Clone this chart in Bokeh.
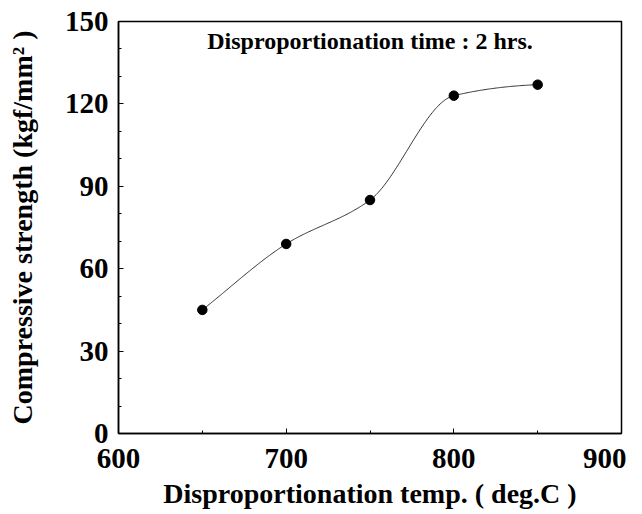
import numpy as np
from bokeh.plotting import figure
from bokeh.models import Range1d, Label, SingleIntervalTicker
from bokeh.embed import file_html
from bokeh.resources import INLINE

temps = [650, 700, 750, 800, 850]
strength = [45, 69, 85, 123, 127]
x_ticks = [600, 700, 800, 900]
y_ticks = [0, 30, 60, 90, 120, 150]

# monotone cubic (Fritsch-Carlson) curve through the data points
def pchip(xs, ys, n=300):
    xs = np.asarray(xs, float); ys = np.asarray(ys, float)
    h = np.diff(xs); d = np.diff(ys) / h
    m = np.zeros_like(ys)
    for i in range(1, len(xs) - 1):
        if d[i - 1] * d[i] > 0:
            w1 = 2 * h[i] + h[i - 1]; w2 = h[i] + 2 * h[i - 1]
            m[i] = (w1 + w2) / (w1 / d[i - 1] + w2 / d[i])
    m[0] = d[0]; m[-1] = d[-1] * 0.3
    xx = np.linspace(xs[0], xs[-1], n); yy = np.empty_like(xx)
    for j, x in enumerate(xx):
        i = min(np.searchsorted(xs, x, side="right") - 1, len(xs) - 2)
        t = (x - xs[i]) / h[i]
        h00 = 2 * t**3 - 3 * t**2 + 1; h10 = t**3 - 2 * t**2 + t
        h01 = -2 * t**3 + 3 * t**2; h11 = t**3 - t**2
        yy[j] = h00 * ys[i] + h10 * h[i] * m[i] + h01 * ys[i + 1] + h11 * h[i] * m[i + 1]
    return xx, yy

sx, sy = pchip(temps, strength)

FONT = "Liberation Serif"
p = figure(frame_width=503, frame_height=412, output_backend="svg", toolbar_location=None,
           x_range=Range1d(600, 900), y_range=Range1d(0, 150),
           min_border_left=118, min_border_right=5, min_border_top=21, min_border_bottom=60)
p.grid.visible = False
p.outline_line_color = "black"
p.outline_line_width = 1.5
p.background_fill_color = "white"
p.border_fill_color = "white"

p.line(sx, sy, line_color="black", line_width=0.8)
p.scatter(temps, strength, size=9.5, color="black")

p.xaxis.ticker = SingleIntervalTicker(interval=100, num_minor_ticks=2)
p.yaxis.ticker = SingleIntervalTicker(interval=30, num_minor_ticks=3)
for ax in (p.xaxis[0], p.yaxis[0]):
    ax.axis_line_color = "black"
    ax.axis_line_width = 1.5
    ax.major_tick_in = 5
    ax.major_tick_out = 0
    ax.minor_tick_in = 3
    ax.minor_tick_out = 0
    ax.major_label_text_font = FONT
    ax.major_label_text_font_style = "bold"
    ax.major_label_text_font_size = "29px"
    ax.major_label_text_color = "black"
    ax.axis_label_text_font = FONT
    ax.axis_label_text_font_style = "bold"
    ax.axis_label_text_font_size = "28px"
    ax.axis_label_text_color = "black"

p.xaxis.major_label_standoff = 15
p.yaxis.major_label_standoff = 10
p.xaxis.axis_label = "Disproportionation temp. ( deg.C )"
p.yaxis.axis_label = "Compressive strength (kgf/mm² )"
p.xaxis.axis_label_standoff = 7
p.yaxis.axis_label_standoff = 24

p.add_layout(Label(x=750, y=147.5, text="Disproportionation time : 2 hrs.",
                   text_font=FONT, text_font_style="bold", text_font_size="24px",
                   text_align="center", text_baseline="top", text_color="black"))

open("out.html", "w").write(file_html(p, INLINE))
